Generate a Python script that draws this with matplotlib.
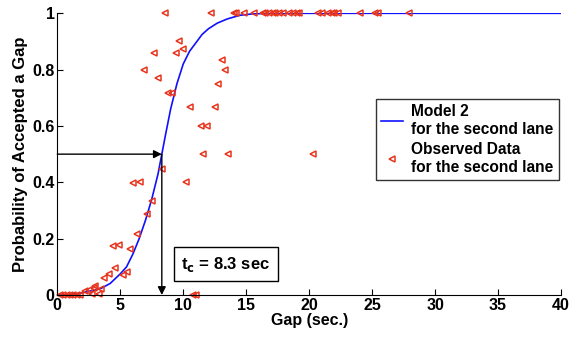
import matplotlib
matplotlib.use("Agg")
import matplotlib.pyplot as plt

plt.rcParams["font.family"] = ["Liberation Sans", "DejaVu Sans"]
plt.rcParams["font.weight"] = "bold"

# Model 2 curve
model_x = [0, 1, 2, 3, 3.5, 4.2, 5.0, 5.5, 6.0, 6.5, 7.0, 7.5, 8.0, 8.3, 8.6, 9.0,
           9.5, 10.0, 10.5, 11.0, 11.5, 12.0, 12.7, 13.5, 14.5, 15.5, 17, 40]
model_y = [0, 0.002, 0.008, 0.018, 0.024, 0.041, 0.075, 0.1, 0.145, 0.2, 0.265, 0.34,
           0.43, 0.5, 0.57, 0.66, 0.75, 0.82, 0.865, 0.895, 0.925, 0.945, 0.965, 0.98,
           0.993, 0.998, 1.0, 1.0]

# Observed data for the second lane
obs_x = [0.21, 0.48, 0.75, 1.0, 1.27, 1.54, 1.8, 2.2, 2.49, 2.73, 2.89, 3.02, 3.33,
         3.44, 3.7, 4.1, 4.6, 5.24, 5.5, 4.4, 4.9, 5.77, 6.35, 7.14, 7.49, 6.03, 6.56,
         8.28, 10.2, 10.8, 11.05, 11.59, 13.57, 20.3, 11.38, 11.9, 10.56, 12.49,
         12.78, 8.81, 9.13, 7.97, 6.9, 13.33, 13.07, 7.67, 9.42, 10.0, 9.68,
         8.55, 12.2, 14.0, 14.2, 14.8, 15.6, 16.3, 16.5, 16.8, 17.1, 17.3, 17.6, 17.9,
         18.4, 18.7, 19.0, 19.2, 20.7, 21.0, 21.5, 21.8, 22.0, 22.3, 24.0, 25.2, 25.5,
         27.9]
obs_y = [0, 0, 0, 0, 0, 0, 0, 0.014, 0.018, 0.004, 0.024, 0.032, 0.004,
         0.02, 0.06, 0.075, 0.095, 0.071, 0.083, 0.174, 0.178, 0.162, 0.216, 0.287, 0.334, 0.396, 0.40,
         0.447, 0.40, 0, 0, 0.5, 0.5, 0.5, 0.60, 0.60, 0.668, 0.668,
         0.75, 0.717, 0.717, 0.771, 0.80, 0.80, 0.833, 0.859, 0.859, 0.875, 0.902,
         1, 1, 1, 1, 1, 1, 1, 1, 1, 1, 1, 1, 1,
         1, 1, 1, 1, 1, 1, 1, 1, 1, 1, 1, 1, 1,
         1]

tc = 8.3
p_half = 0.5

fig = plt.figure(figsize=(5.79, 3.4), dpi=100)
ax = fig.add_axes([57.3 / 579, 1 - 295 / 340, (561 - 57.3) / 579, (295 - 13.3) / 340])

ax.plot(model_x, model_y, color="#1010ff", lw=1.2, label="Model 2\nfor the second lane")
ax.plot(obs_x, obs_y, ls="none", marker="<", ms=4.8, mfc="none", mec="#e8341c", mew=1.1,
        clip_on=False, label="Observed Data\nfor the second lane")

# arrows marking the critical gap
ax.annotate("", xy=(tc, p_half), xytext=(0, p_half),
            arrowprops=dict(arrowstyle="-|>", color="black", lw=1, mutation_scale=12,
                            shrinkA=0, shrinkB=0))
ax.annotate("", xy=(tc, 0), xytext=(tc, p_half),
            arrowprops=dict(arrowstyle="-|>", color="black", lw=1, mutation_scale=12,
                            shrinkA=0, shrinkB=0))

ax.text(9.85, 0.11, r"t$_\mathbf{c}$ = %.1f sec" % tc, fontsize=12, fontweight="bold",
        va="center", ha="left",
        bbox=dict(boxstyle="square,pad=0.45", fc="white", ec="black", lw=1))

ax.set_xlim(0, 40)
ax.set_ylim(0, 1)
ax.set_xticks(range(0, 41, 5))
ax.set_yticks([0, 0.2, 0.4, 0.6, 0.8, 1])
ax.set_yticklabels(["0", "0.2", "0.4", "0.6", "0.8", "1"])
ax.tick_params(direction="in", length=4, labelsize=11.5, pad=2)
for lbl in ax.get_xticklabels() + ax.get_yticklabels():
    lbl.set_fontweight("bold")
ax.spines["top"].set_visible(False)
ax.spines["right"].set_visible(False)
ax.set_xlabel("Gap (sec.)", fontsize=11.5, fontweight="bold", labelpad=0)
ax.set_ylabel("Probability of Accepted a Gap", fontsize=12, fontweight="bold", labelpad=3)

leg = ax.legend(loc="upper left", bbox_to_anchor=(376 / 579, 1 - 99 / 340),
                bbox_transform=fig.transFigure, fontsize=11.2, frameon=True,
                fancybox=False, edgecolor="black", handlelength=1.4,
                handletextpad=0.5, labelspacing=0.35, borderpad=0.35, borderaxespad=0)
leg.get_frame().set_linewidth(1)
for t in leg.get_texts():
    t.set_fontweight("bold")

fig.savefig("out.png", dpi=100)
